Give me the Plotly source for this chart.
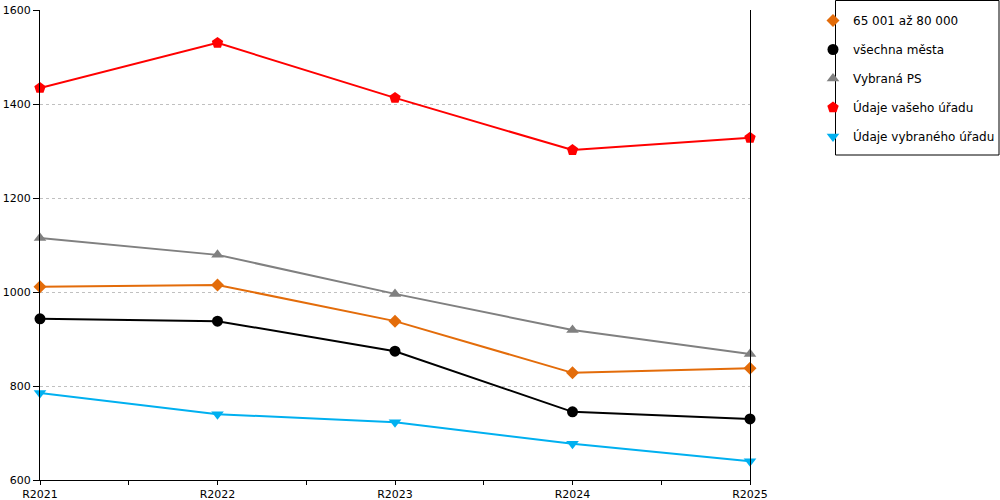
import plotly.graph_objects as go

# data
years = ["R2021", "R2022", "R2023", "R2024", "R2025"]
skupina = [1011, 1015, 938, 828, 838]        # 65 001 až 80 000
vsechna = [943, 938, 874, 745, 730]          # všechna města
vybrana_ps = [1115, 1079, 996, 919, 868]     # Vybraná PS
vas_urad = [1434, 1530, 1413, 1302, 1328]    # Údaje vašeho úřadu
vybrany_urad = [785, 740, 723, 677, 640]     # Údaje vybraného úřadu

x = list(range(len(years)))

series = [
    ("65 001 až 80 000", skupina, "#E36C0A", "diamond", 10),
    ("všechna města", vsechna, "#000000", "circle", 11),
    ("Vybraná PS", vybrana_ps, "#808080", "triangle-up", 11),
    ("Údaje vašeho úřadu", vas_urad, "#FF0000", "pentagon", 12),
    ("Údaje vybraného úřadu", vybrany_urad, "#00B0F0", "triangle-down", 11),
]

fig = go.Figure()
for i, (name, vals, color, sym, size) in enumerate(series):
    # line without legend entry, markers carry the legend (marker-only symbol)
    fig.add_trace(go.Scatter(
        x=x, y=vals, name=name, mode="lines", showlegend=False,
        line=dict(color=color, width=2), cliponaxis=False,
    ))
    fig.add_trace(go.Scatter(
        x=x, y=vals, name=name, mode="markers",
        marker=dict(color=color, symbol=sym, size=size),
        cliponaxis=False, legendgroup=str(i),
    ))

# ticks at each year plus the midpoints between them
tickvals = []
ticktext = []
for i, y in enumerate(years):
    tickvals.append(i)
    ticktext.append(y)
    if i < len(years) - 1:
        tickvals.append(i + 0.5)
        ticktext.append("")

# legend frame drawn as a shape (paper coords, plot area is 710x470 px)
fig.add_shape(type="rect", xref="paper", yref="paper",
              x0=795.5 / 710, x1=959 / 710, y0=325 / 470, y1=479.5 / 470,
              line=dict(color="#000000", width=1), fillcolor="rgba(0,0,0,0)")

fig.update_layout(
    width=1000, height=500,
    margin=dict(l=40, r=250, t=10, b=20, autoexpand=False),
    plot_bgcolor="white", paper_bgcolor="white",
    font=dict(family="DejaVu Sans", size=12, color="#000000"),
    showlegend=True,
    legend=dict(
        xref="container", yref="container",
        x=0.813, y=0.988, xanchor="left", yanchor="top",
        borderwidth=0, bgcolor="rgba(0,0,0,0)",
        font=dict(size=12), tracegroupgap=10, itemwidth=30,
    ),
    xaxis=dict(
        range=[0, 4], tickvals=tickvals, ticktext=ticktext,
        showline=True, linecolor="#000000", linewidth=1,
        ticks="outside", ticklen=4, tickcolor="#000000",
        showgrid=False, zeroline=False,
        tickfont=dict(size=11),
    ),
    yaxis=dict(
        range=[600, 1600], dtick=200,
        showline=True, linecolor="#000000", linewidth=1, mirror=True,
        ticks="outside", ticklen=6, tickcolor="#000000",
        showgrid=True, gridcolor="#C0C0C0", griddash="dot", gridwidth=1,
        zeroline=False, tickfont=dict(size=11),
    ),
)

# drop the default 8px page margin so the 1000x500 figure fills the window
fig.write_html("out.html", config={"displayModeBar": False},
               post_script="document.body.style.margin='0';")
